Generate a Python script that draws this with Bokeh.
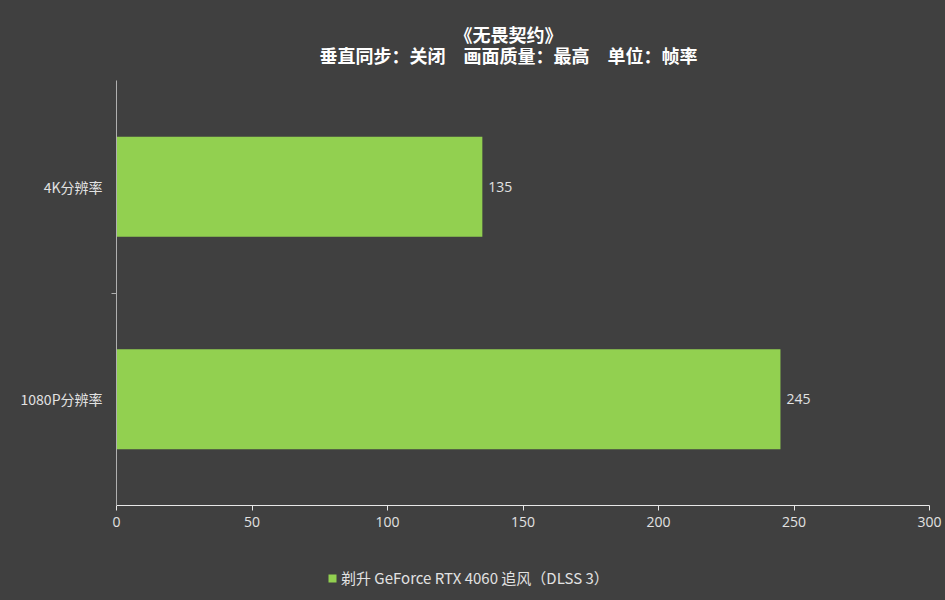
from bokeh.plotting import figure
from bokeh.models import (ColumnDataSource, Range1d, FixedTicker, Legend,
                          LegendItem, LabelSet, Label)
from bokeh.layouts import column
from bokeh.core.properties import value
from bokeh.embed import file_html
from bokeh.resources import INLINE

# ---- data ----
categories = ["1080P分辨率", "4K分辨率"]          # bottom to top
fps_values = [245, 135]
series_name = "剃升 GeForce RTX 4060 追风（DLSS 3）"
title_line1 = "《无畏契约》"
title_line2 = "垂直同步：关闭\u3000画面质量：最高\u3000单位：帧率"
x_ticks = [0, 50, 100, 150, 200, 250, 300]

FONT = "Noto Sans CJK SC"
NUMFONT = "Open Sans"
BG = "#404040"
BAR = "#92d050"
TXT = "#e2e2e2"
W = 945
LEFT, RIGHT = 116, 16


def style(f):
    f.background_fill_color = None
    f.border_fill_color = BG
    f.outline_line_color = None
    f.grid.visible = False
    return f


def strip(height):
    # page-pixel coordinates inside a narrow strip (x from page left, y from strip top)
    f = figure(width=W, height=height, output_backend="svg", toolbar_location=None,
               x_range=Range1d(LEFT, W - RIGHT), y_range=Range1d(height, 0),
               x_axis_location=None, y_axis_location=None,
               min_border_left=LEFT, min_border_right=RIGHT,
               min_border_top=0, min_border_bottom=0, title=None)
    return style(f)


ypos = [i + 0.5 for i in range(len(categories))]
src = ColumnDataSource(dict(y=ypos, v=fps_values, lab=[str(v) for v in fps_values]))

# ---- title strip ----
pt = strip(80)
for txt, yy in ((title_line1, 33), (title_line2, 54)):
    pt.add_layout(Label(x=508, y=yy, text=txt, text_align="center",
                        text_baseline="middle", text_color="#ffffff",
                        text_font=FONT, text_font_size="18px",
                        text_font_style="bold"))

# ---- main chart ----
p = figure(width=W, height=480, output_backend="svg", toolbar_location=None,
           x_range=Range1d(0, 300), y_range=Range1d(0, len(categories)),
           min_border_left=LEFT, min_border_right=RIGHT, min_border_top=0,
           min_border_bottom=55, title=None)
style(p)

p.hbar(y="y", right="v", left=0, height=0.47, source=src,
       fill_color=BAR, line_color=None)

p.add_layout(LabelSet(x="v", y="y", text="lab", source=src, x_offset=6,
                      text_baseline="middle", text_color=TXT,
                      text_font_size="14px", text_font=value(NUMFONT)))

xa = p.xaxis[0]
xa.ticker = FixedTicker(ticks=x_ticks)
xa.axis_line_color = "#e8e8e8"
xa.major_tick_line_color = "#e8e8e8"
xa.major_tick_out = 5
xa.major_tick_in = 0
xa.minor_tick_line_color = None
xa.major_label_text_color = TXT
xa.major_label_text_font = NUMFONT
xa.major_label_text_font_size = "14px"
xa.major_label_standoff = 6

ya = p.yaxis[0]
ya.ticker = FixedTicker(ticks=ypos, minor_ticks=[1])
ya.major_label_overrides = {y: c for y, c in zip(ypos, categories)}
ya.axis_line_color = "#b0b0b0"
ya.major_tick_line_color = None
ya.major_tick_out = 0
ya.major_tick_in = 0
ya.minor_tick_line_color = "#b0b0b0"
ya.minor_tick_out = 5
ya.minor_tick_in = 0
ya.major_label_text_color = TXT
ya.major_label_text_font = FONT
ya.major_label_text_font_size = "14px"
ya.major_label_standoff = 9

# ---- legend strip ----
pl = strip(40)
key = pl.hbar(y="y", right="v", left=0, height=0.47, source=src,
              fill_color=BAR, line_color=None, visible=False)
pl.add_layout(Legend(items=[LegendItem(label=series_name, renderers=[key], index=0)],
                     location=(211, 12), orientation="horizontal",
                     background_fill_alpha=0, border_line_color=None,
                     inactive_fill_alpha=0,
                     label_text_color=TXT, label_text_font=FONT,
                     label_text_font_size="15px", glyph_width=10, glyph_height=10,
                     label_standoff=4, padding=0, margin=0, label_height=15))

layout = column(pt, p, pl, spacing=0, styles={"background-color": BG})
open("out.html", "w").write(file_html(layout, INLINE))
